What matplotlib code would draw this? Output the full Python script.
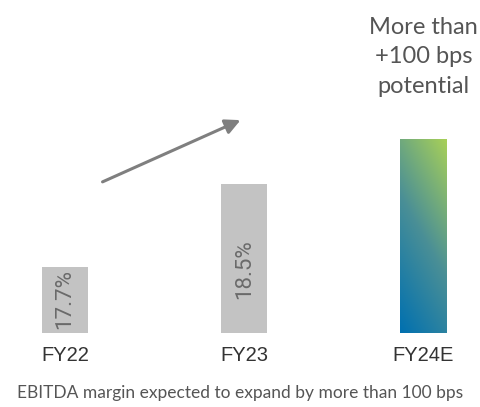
import matplotlib.pyplot as plt
import numpy as np
from matplotlib.colors import LinearSegmentedColormap
from matplotlib.patches import Rectangle

years = ["FY22", "FY23", "FY24E"]
margins = [17.7, 18.5, 18.93]
margin_labels = ["17.7%", "18.5%", ""]
label_pos = [0.52, 0.43, 0.5]

baseline = 17.064
bar_width = 0.257
grey = "#c3c3c3"
text_grey = "#555555"

fig = plt.figure(figsize=(4.81, 4.07), dpi=100)
ax = fig.add_axes([0, 0, 1, 1])
ax.set_xlim(-0.3626, 2.3208)
ax.set_ylim(16.351, 20.274)
ax.axis("off")

x = np.arange(len(years))
bars = ax.bar(x, np.array(margins) - baseline, bottom=baseline, width=bar_width,
              color=[grey, grey, "none"], edgecolor="none")

# diagonal green -> blue fill for the forecast bar
cmap = LinearSegmentedColormap.from_list("grad", ["#0070b0", "#4a8f96", "#a8d058"])
last = bars[-1]
gx, gy = np.meshgrid(np.linspace(0, 1, 100), np.linspace(0, 1, 300))
grad = 0.3 * gx + 0.7 * gy
x0, y0 = last.get_x(), last.get_y()
w, h = last.get_width(), last.get_height()
img = ax.imshow(grad, cmap=cmap, extent=(x0, x0 + w, y0, y0 + h),
                origin="lower", aspect="auto", zorder=2)
img.set_clip_path(Rectangle((x0, y0), w, h, transform=ax.transData))
ax.set_xlim(-0.3626, 2.3208)
ax.set_ylim(16.351, 20.274)

for xi, val, lab, p in zip(x, margins, margin_labels, label_pos):
    if lab:
        ax.text(xi, baseline + (val - baseline) * p, lab, rotation=90,
                ha="center", va="center", fontsize=16, color="#6a6a6a",
                family="Roboto", zorder=3)
    ax.text(xi, baseline - 0.22, years[xi], ha="center", va="center",
            fontsize=14.5, color="#333333", family="Liberation Sans")

ax.text(x[-1], margins[-1] + 0.795, "More than\n+100 bps\npotential", ha="center",
        va="center", fontsize=17, color=text_grey, family="Lato",
        linespacing=1.5)

ax.annotate("", xy=(243, 288), xytext=(100, 224), xycoords="figure pixels",
            textcoords="figure pixels",
            arrowprops=dict(arrowstyle="-|>,head_length=0.9,head_width=0.45",
                            color="#7f7f7f", lw=2.2))

fig.text(0.5, 1 - 393 / 407, "EBITDA margin expected to expand by more than 100 bps",
         ha="center", va="center", fontsize=12.5, color=text_grey, family="Lato")

fig.savefig("out.png", dpi=100, facecolor="white")
